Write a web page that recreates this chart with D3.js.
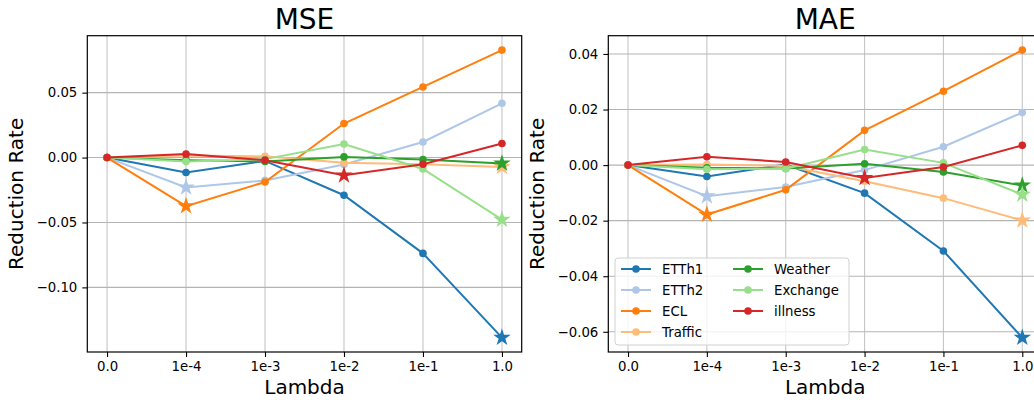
<!DOCTYPE html>
<html>
<head>
<meta charset="utf-8">
<script src="https://cdn.jsdelivr.net/npm/d3@7"></script>
<style>
  body { margin: 0; background: #fff; }
  svg { font-family: "DejaVu Sans", sans-serif; }
</style>
</head>
<body>
<svg id="chart" width="1034" height="400"></svg>
<script>
// lambda values on the x axis
var lambdas = ["0.0", "1e-4", "1e-3", "1e-2", "1e-1", "1.0"];
var datasets = ["ETTh1", "ETTh2", "ECL", "Traffic", "Weather", "Exchange", "illness"];
var colors = ["#1f77b4", "#aec7e8", "#ff7f0e", "#ffbb78", "#2ca02c", "#98df8a", "#d62728"];

// reduction rate of MSE
var mseETTh1 = [0, -0.0115, -0.0026, -0.0290, -0.0738, -0.1387];
var mseETTh2 = [0, -0.0230, -0.0176, -0.0054, 0.0120, 0.0418];
var mseECL = [0, -0.0374, -0.0188, 0.0262, 0.0544, 0.0828];
var mseTraffic = [0, 0.0015, 0.0010, -0.0040, -0.0052, -0.0072];
var mseWeather = [0, -0.0020, -0.0030, 0.0005, -0.0015, -0.0045];
var mseExchange = [0, -0.0031, -0.0012, 0.0105, -0.0088, -0.0478];
var mseIllness = [0, 0.0028, -0.0020, -0.0136, -0.0051, 0.0108];

// reduction rate of MAE
var maeETTh1 = [0, -0.0041, 0.0002, -0.0101, -0.0309, -0.0621];
var maeETTh2 = [0, -0.0112, -0.0079, -0.0018, 0.0066, 0.0189];
var maeECL = [0, -0.0178, -0.0089, 0.0125, 0.0266, 0.0414];
var maeTraffic = [0, 0.0002, -0.0003, -0.0058, -0.0119, -0.0199];
var maeWeather = [0, -0.0010, -0.0012, 0.0005, -0.0025, -0.0073];
var maeExchange = [0, -0.0015, -0.0013, 0.0056, 0.0008, -0.0106];
var maeIllness = [0, 0.0030, 0.0011, -0.0046, -0.0007, 0.0071];

var mseTicks = [-0.10, -0.05, 0.00, 0.05];
var maeTicks = [-0.06, -0.04, -0.02, 0.00, 0.02, 0.04];

var svg = d3.select("#chart");
var fmt = d => d3.format(".2f")(d).replace("-", "\u2212");

function panel(opts) {
    var box = opts.box;
    var rows = opts.rows;

    var x = d3.scaleLinear()
        .domain([-0.25, lambdas.length - 0.75])
        .range([box.left, box.right]);

    // matplotlib style 5% margins
    var all = d3.merge(rows);
    var lo = d3.min(all), hi = d3.max(all), pad = (hi - lo) * 0.05;
    var y = d3.scaleLinear()
        .domain([lo - pad, hi + pad])
        .range([box.bottom, box.top]);

    var g = svg.append("g");

    // grid
    g.append("g").selectAll("line").data(lambdas).join("line")
        .attr("x1", (d, i) => x(i)).attr("x2", (d, i) => x(i))
        .attr("y1", box.top).attr("y2", box.bottom)
        .attr("stroke", "#c6c6c6").attr("stroke-width", 1.1);
    g.append("g").selectAll("line").data(opts.ticks).join("line")
        .attr("x1", box.left).attr("x2", box.right)
        .attr("y1", d => y(d)).attr("y2", d => y(d))
        .attr("stroke", "#b4b4b4").attr("stroke-width", 1.1);

    var line = d3.line()
        .x((d, i) => x(i))
        .y(d => y(d));

    rows.forEach(function(vals, k) {
        var s = g.append("g");
        s.append("path")
            .attr("d", line(vals))
            .attr("fill", "none")
            .attr("stroke", colors[k])
            .attr("stroke-width", 2);
        // best point (lowest value) gets a star instead of a dot
        var best = d3.minIndex(vals);
        var pts = vals.map((v, i) => ({i: i, v: v})).filter(p => p.i !== best);
        s.selectAll("circle").data(pts).join("circle")
            .attr("cx", p => x(p.i))
            .attr("cy", p => y(p.v))
            .attr("r", 3.8)
            .attr("fill", colors[k]);
        s.append("path")
            .attr("d", d3.symbol(d3.symbolStar, 95)())
            .attr("transform", "translate(" + x(best) + "," + y(vals[best]) + ")")
            .attr("fill", colors[k]);
    });

    // frame
    g.append("rect")
        .attr("x", box.left).attr("y", box.top)
        .attr("width", box.right - box.left).attr("height", box.bottom - box.top)
        .attr("fill", "none").attr("stroke", "#000").attr("stroke-width", 1.2);

    var xAxis = d3.axisBottom(x)
        .tickValues(d3.range(lambdas.length))
        .tickFormat(i => lambdas[i])
        .tickSize(5).tickPadding(5);
    var gx = g.append("g")
        .attr("transform", "translate(0," + box.bottom + ")")
        .call(xAxis);
    gx.select(".domain").remove();

    var yAxis = d3.axisLeft(y)
        .tickValues(opts.ticks)
        .tickFormat(fmt)
        .tickSize(5).tickPadding(5);
    var gy = g.append("g")
        .attr("transform", "translate(" + box.left + ",0)")
        .call(yAxis);
    gy.select(".domain").remove();

    g.selectAll(".tick text")
        .attr("font-size", 13.3)
        .attr("font-family", "DejaVu Sans")
        .attr("fill", "#000");
    g.selectAll(".tick line").attr("stroke", "#000").attr("stroke-width", 1.1);

    // labels
    var cx = (box.left + box.right) / 2;
    g.append("text")
        .attr("x", cx).attr("y", 29)
        .attr("text-anchor", "middle")
        .attr("font-size", 28)
        .text(opts.title);
    g.append("text")
        .attr("x", cx).attr("y", 394)
        .attr("text-anchor", "middle")
        .attr("font-size", 20)
        .text("Lambda");
    g.append("text")
        .attr("transform", "translate(" + opts.ylabelX + "," + ((box.top + box.bottom) / 2) + ") rotate(-90)")
        .attr("text-anchor", "middle")
        .attr("font-size", 20)
        .text("Reduction Rate");

    return g;
}

panel({
    title: "MSE",
    box: {left: 87.3, right: 521.7, top: 35.7, bottom: 352},
    rows: [mseETTh1, mseETTh2, mseECL, mseTraffic, mseWeather, mseExchange, mseIllness],
    ticks: mseTicks,
    ylabelX: 23
});

var right = panel({
    title: "MAE",
    box: {left: 608.3, right: 1042, top: 35.7, bottom: 352},
    rows: [maeETTh1, maeETTh2, maeECL, maeTraffic, maeWeather, maeExchange, maeIllness],
    ticks: maeTicks,
    ylabelX: 544
});

// legend in the MAE panel
var legend = right.append("g");
legend.append("rect")
    .attr("x", 615).attr("y", 258)
    .attr("width", 234).attr("height", 87)
    .attr("rx", 3)
    .attr("fill", "#fff").attr("fill-opacity", 0.8)
    .attr("stroke", "#d0d0d0").attr("stroke-width", 1);

var item = legend.selectAll(".item").data(datasets).join("g")
    .attr("class", "item")
    .attr("transform", (d, i) => "translate(" + (i < 4 ? 621 : 733) + "," + (269 + (i % 4) * 21) + ")");
item.append("line")
    .attr("x1", 0).attr("x2", 30)
    .attr("stroke", (d, i) => colors[i]).attr("stroke-width", 2);
item.append("circle")
    .attr("cx", 15).attr("r", 3.8)
    .attr("fill", (d, i) => colors[i]);
item.append("text")
    .attr("x", 41).attr("y", 5)
    .attr("font-size", 13.3)
    .text(d => d);
</script>
</body>
</html>
